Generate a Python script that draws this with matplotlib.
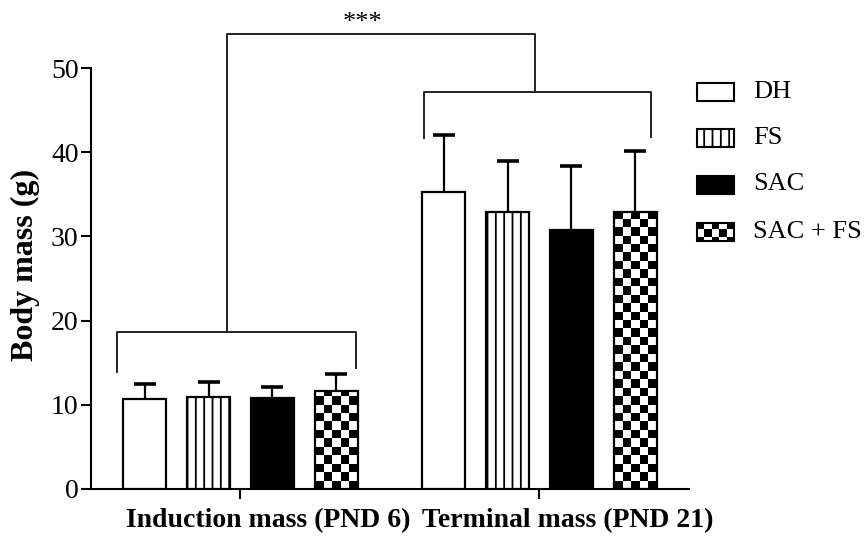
import numpy as np
import matplotlib
matplotlib.use("Agg")
import matplotlib.pyplot as plt
from matplotlib.patches import Rectangle
from matplotlib.transforms import ScaledTranslation

plt.rcParams['font.family'] = ['Liberation Serif', 'DejaVu Serif']
plt.rcParams['hatch.linewidth'] = 1.3

# data
timepoints = ["Induction mass (PND 6)", "Terminal mass (PND 21)"]
groups = ["DH", "FS", "SAC", "SAC + FS"]
means = {
    "DH": [10.65, 35.3],
    "FS": [10.9, 32.9],
    "SAC": [10.8, 30.8],
    "SAC + FS": [11.6, 32.9],
}
sds = {
    "DH": [1.8, 6.75],
    "FS": [1.8, 6.1],
    "SAC": [1.3, 7.6],
    "SAC + FS": [2.05, 7.3],
}

styles = {
    "DH": dict(facecolor="white", hatch=None),
    "FS": dict(facecolor="white", hatch="||"),
    "SAC": dict(facecolor="black", hatch=None),
    "SAC + FS": dict(facecolor="none", hatch=None),  # checkerboard drawn under it
}


def checker_fill(ax, patch, x0, x1, y0, y1, ncols, nrows, z):
    board = np.indices((nrows, ncols)).sum(axis=0) % 2
    im = ax.imshow(board, cmap="gray", extent=(x0, x1, y0, y1), origin="lower",
                   interpolation="nearest", aspect="auto", zorder=z)
    im.set_clip_path(patch)
    return im


fig = plt.figure(figsize=(8.67, 5.41), dpi=100)
ax = fig.add_axes([91 / 867, 52 / 541, 598 / 867, 421 / 541])

x = np.arange(len(timepoints))
offsets = [-0.32, -0.107, 0.107, 0.32]
width = 0.143

for g, off in zip(groups, offsets):
    st = styles[g]
    bars = ax.bar(x + off, means[g], width, facecolor=st["facecolor"], hatch=st["hatch"],
                  edgecolor="black", linewidth=1.6, zorder=3)
    _, caps, _ = ax.errorbar(x + off, means[g], yerr=[np.zeros(len(x)), sds[g]], fmt="none",
                             ecolor="black", elinewidth=1.6, capsize=8, capthick=2.6, zorder=2)
    caps[0].set_visible(False)  # no lower cap
    if g == "SAC + FS":
        for b in bars:
            h = b.get_height()
            nrows = int(np.ceil(h / 1.0))
            checker_fill(ax, b, b.get_x(), b.get_x() + b.get_width(), 0, nrows * 1.0,
                         5, nrows, 2.5)

ax.set_xlim(-0.5, 1.5)
ax.set_ylim(0, 50)
ax.set_yticks(range(0, 51, 10))
ax.set_xticks(x)
ax.set_xticklabels([])
# category labels sit a little right of their ticks, as in the original
lab_tr = ax.get_xaxis_transform() + ScaledTranslation(0.28, -0.19, fig.dpi_scale_trans)
for xi, name in zip(x, timepoints):
    ax.text(xi, 0, name, transform=lab_tr, ha="center", va="top",
            fontsize=20, fontweight="bold")
ax.tick_params(axis="y", direction="out", length=7, width=1.5, labelsize=20, pad=2)
ax.tick_params(axis="x", direction="out", length=7, width=1.5)
for s in ["top", "right"]:
    ax.spines[s].set_visible(False)
for s in ["left", "bottom"]:
    ax.spines[s].set_linewidth(1.5)
ax.set_ylabel("Body mass (g)", fontsize=23, fontweight="bold")
ax.yaxis.set_label_coords(-0.085, 0.532)

# significance brackets
lc = dict(color="#222222", lw=1.4, clip_on=False, zorder=4)
ax.plot([-0.414, -0.414, 0.387, 0.387], [13.9, 18.7, 18.7, 14.4], **lc)
ax.plot([0.613, 0.613, 1.372, 1.372], [41.7, 47.2, 47.2, 41.8], **lc)
ax.plot([-0.044, -0.044, 0.986, 0.986], [18.7, 54.0, 54.0, 47.2], **lc)
ax.text(0.407, 55.4, "***", ha="center", va="center", fontsize=19, clip_on=False)

# legend drawn by hand (checkerboard handle)
leg = fig.add_axes([690 / 867, (541 - 250) / 541, 177 / 867, 180 / 541])
leg.axis("off")
rows = [92, 138, 184.5, 231.5]
for g, yc in zip(groups, rows):
    st = styles[g]
    r = Rectangle((697, yc - 9), 37, 18, facecolor=st["facecolor"], hatch=st["hatch"],
                  edgecolor="black", linewidth=1.5, zorder=3)
    leg.add_patch(r)
    if g == "SAC + FS":
        checker_fill(leg, r, 697, 734, yc - 9, yc + 13.2, 5, 3, 2)
    leg.text(753, yc, g, ha="left", va="center", fontsize=19)
leg.set_xlim(690, 867)
leg.set_ylim(250, 70)

fig.savefig("out.png", dpi=100)
